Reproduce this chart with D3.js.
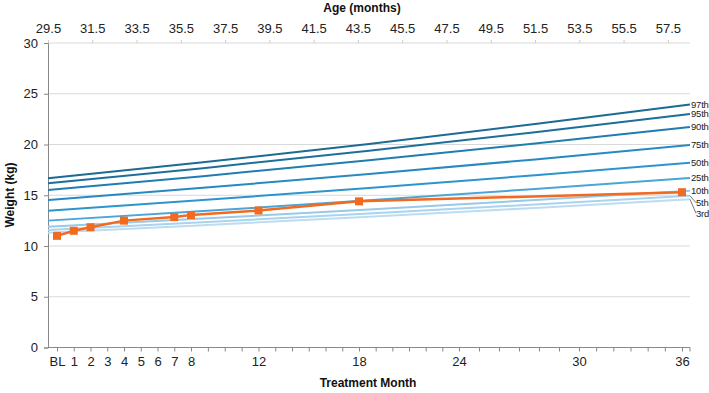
<!DOCTYPE html>
<html>
<head>
<meta charset="utf-8">
<script src="https://cdn.jsdelivr.net/npm/d3@7"></script>
<style>
  body { margin: 0; background: #fff; }
  svg { font-family: "Liberation Sans", Arial, sans-serif; }
</style>
</head>
<body>
<svg id="chart" width="709" height="393"></svg>
<script>
// treatment months and patient weight (kg)
var months = [0, 1, 2, 4, 7, 8, 12, 18, 36];
var weight = [11.0, 11.5, 11.85, 12.5, 12.85, 13.05, 13.5, 14.4, 15.3];

// reference curves, read at these ages (months)
var ages = [29.5, 36.5, 44, 51.5, 58.5];
var pctNames = ["97th", "95th", "90th", "75th", "50th", "25th", "10th", "5th", "3rd"];
var p97 = [16.67, 18.24, 20.06, 22.02, 23.95];
var p95 = [16.18, 17.67, 19.39, 21.21, 23.0];
var p90 = [15.52, 16.88, 18.44, 20.10, 21.72];
var p75 = [14.53, 15.73, 17.09, 18.53, 19.95];
var p50 = [13.48, 14.53, 15.72, 16.97, 18.2];
var p25 = [12.5, 13.44, 14.5, 15.62, 16.7];
var p10 = [11.9, 12.7, 13.6, 14.53, 15.45];
var p5  = [11.58, 12.34, 13.2, 14.09, 14.95];
var p3  = [11.3, 12.05, 12.88, 13.75, 14.6];

var ageTicks = d3.range(29.5, 58, 2);
var monthLabels = [0, 1, 2, 3, 4, 5, 6, 7, 8, 12, 18, 24, 30, 36];

var curves = [p97, p95, p90, p75, p50, p25, p10, p5, p3];
var colors = ["#1b6b93", "#1d6f99", "#1f7db0", "#2789c0", "#2c95cc", "#4aa6d8", "#97c9e8", "#a9d3ee", "#bcdcf2"];

var svg = d3.select("#chart");
var plotL = 48, plotR = 690, plotT = 43, plotB = 347.5;

var y = d3.scaleLinear().domain([0, 30]).range([plotB, plotT]);
var xAge = d3.scaleLinear().domain([29.5, 58.5]).range([plotL, plotR]);
// treatment-month axis is not evenly spaced in the original
var x = d3.scaleLinear().domain([0, 8, 12, 18, 24, 30, 36]).range([57, 191, 258.5, 359, 459, 579, 682]);

// gridlines
svg.append("g")
  .selectAll("line")
  .data(d3.range(5, 31, 5))
  .enter().append("line")
    .attr("x1", plotL).attr("x2", plotR)
    .attr("y1", function(d) { return y(d); })
    .attr("y2", function(d) { return y(d); })
    .attr("stroke", "#d9d9d9").attr("stroke-width", 1);

// y axis
var yAxis = svg.append("g")
    .attr("transform", "translate(" + plotL + ",0)")
    .call(d3.axisLeft(y).tickValues(d3.range(0, 31, 5)).tickSize(4).tickPadding(6));
yAxis.select(".domain").attr("stroke", "#888");
yAxis.selectAll(".tick line").attr("stroke", "#888");
yAxis.selectAll("text").attr("font-size", 13).attr("fill", "#222").attr("font-family", "Liberation Sans, Arial");

// bottom axis
var xAxis = svg.append("g")
    .attr("transform", "translate(0," + plotB + ")")
    .call(d3.axisBottom(x).tickValues(d3.range(0, 37)).tickSize(4).tickPadding(5)
      .tickFormat(function(d) {
        if (monthLabels.indexOf(d) < 0) return "";
        return d === 0 ? "BL" : d;
      }));
xAxis.select(".domain").attr("d", "M" + plotL + ",0H" + plotR + "V4").attr("stroke", "#888");
xAxis.selectAll(".tick line").attr("stroke", "#888");
xAxis.selectAll("text").attr("font-size", 13).attr("fill", "#222").attr("font-family", "Liberation Sans, Arial");

// top axis (age)
var ageAxis = svg.append("g")
    .attr("transform", "translate(0," + plotT + ")")
    .call(d3.axisTop(xAge).tickValues(ageTicks).tickSize(3).tickPadding(7).tickFormat(d3.format(".1f")));
ageAxis.select(".domain").remove();
ageAxis.selectAll(".tick line").attr("stroke", "#ccc");
ageAxis.selectAll("text").attr("font-size", 13).attr("fill", "#222").attr("font-family", "Liberation Sans, Arial");

// percentile curves
var curveLine = d3.line()
    .x(function(d, i) { return xAge(ages[i]); })
    .y(function(d) { return y(d); })
    .curve(d3.curveMonotoneX);

svg.append("g")
  .selectAll("path")
  .data(curves)
  .enter().append("path")
    .attr("d", curveLine)
    .attr("fill", "none")
    .attr("stroke", function(d, i) { return colors[i]; })
    .attr("stroke-width", 2);

// patient line
var pts = months.map(function(m, i) { return [m, weight[i]]; });
svg.append("path")
    .datum(pts)
    .attr("d", d3.line().x(function(d) { return x(d[0]); }).y(function(d) { return y(d[1]); }))
    .attr("fill", "none")
    .attr("stroke", "#f26a1f")
    .attr("stroke-width", 2.5);

svg.append("g")
  .selectAll("rect")
  .data(pts)
  .enter().append("rect")
    .attr("x", function(d) { return x(d[0]) - 4; })
    .attr("y", function(d) { return y(d[1]) - 4; })
    .attr("width", 8).attr("height", 8)
    .attr("fill", "#f26a1f");

// right-hand labels; 5th and 3rd pushed down with leader lines
var labelOffset = [0, 0, 0, 0, 0, 0, 0, 7, 14];
var last = ages.length - 1;
var lab = svg.append("g");
curves.forEach(function(c, i) {
  var yEnd = y(c[last]);
  var yLab = yEnd + labelOffset[i];
  if (labelOffset[i] > 0) {
    lab.append("line")
      .attr("x1", plotR).attr("y1", yEnd)
      .attr("x2", plotR + 6).attr("y2", yLab)
      .attr("stroke", "#555").attr("stroke-width", 0.8);
  }
  lab.append("text")
    .attr("x", labelOffset[i] > 0 ? plotR + 6 : plotR + 1)
    .attr("y", yLab)
    .attr("dy", "0.35em")
    .attr("font-size", 9.5)
    .attr("letter-spacing", -0.2)
    .attr("fill", "#222")
    .text(pctNames[i]);
});

// titles
svg.append("text")
    .attr("x", 362).attr("y", 12)
    .attr("text-anchor", "middle")
    .attr("font-size", 12).attr("font-weight", "bold").attr("fill", "#111")
    .text("Age (months)");

svg.append("text")
    .attr("x", 368).attr("y", 387)
    .attr("text-anchor", "middle")
    .attr("font-size", 12).attr("font-weight", "bold").attr("fill", "#111")
    .text("Treatment Month");

svg.append("text")
    .attr("transform", "translate(14,195) rotate(-90)")
    .attr("text-anchor", "middle")
    .attr("font-size", 12).attr("font-weight", "bold").attr("fill", "#111")
    .text("Weight (kg)");
</script>
</body>
</html>
